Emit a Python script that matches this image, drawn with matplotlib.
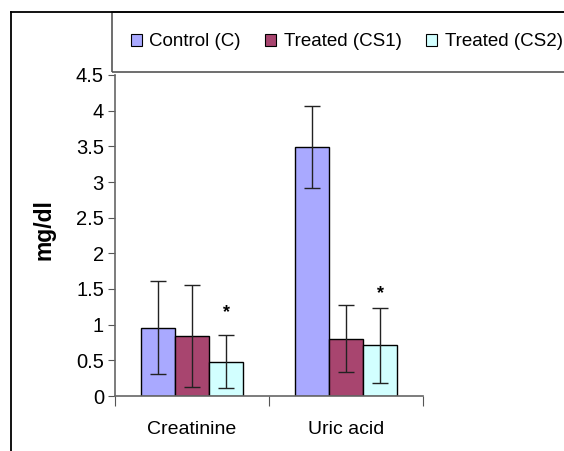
import numpy as np
import matplotlib
matplotlib.use("Agg")
from matplotlib import pyplot as plt
from matplotlib.patches import Rectangle
from matplotlib.lines import Line2D

plt.rcParams['font.family'] = ['Liberation Sans', 'DejaVu Sans']

categories = ["Creatinine", "Uric acid"]
groups = ["Control (C)", "Treated (CS1)", "Treated (CS2)"]
means = {
    "Control (C)":   [0.96, 3.49],
    "Treated (CS1)": [0.84, 0.80],
    "Treated (CS2)": [0.48, 0.71],
}
errors = {
    "Control (C)":   [0.65, 0.57],
    "Treated (CS1)": [0.72, 0.47],
    "Treated (CS2)": [0.37, 0.53],
}
colors = ["#A9A9FF", "#A8456F", "#D2FFFF"]
# significance marks above the CS2 bars
star_y = [1.17, 1.43]

fig = plt.figure(figsize=(5.64, 4.51), dpi=100)
ax = fig.add_axes([115/564, 1-396/451, 308/564, 321/451])

width = 0.221
x = np.arange(len(categories)) + 0.5
for i, g in enumerate(groups):
    pos = x + (i - 1) * width
    ax.bar(pos, means[g], width, color=colors[i], edgecolor='black', linewidth=1.0, label=g)
    ax.errorbar(pos, means[g], yerr=errors[g], fmt='none', ecolor='#222222',
                elinewidth=1.0, capsize=5.5, capthick=1.0)

for xi, yi in zip(x + width, star_y):
    ax.text(xi, yi, "*", ha='center', va='center', fontsize=13, fontweight='bold')

ax.set_xlim(0, 2)
ax.set_ylim(0, 4.5)
ax.set_yticks(np.arange(0, 4.51, 0.5))
ax.set_yticklabels(["0", "0.5", "1", "1.5", "2", "2.5", "3", "3.5", "4", "4.5"], fontsize=14.5)
ax.set_xticks([0, 1, 2])
ax.set_xticklabels([])
ax.set_xticks(x, minor=True)
ax.set_xticklabels(categories, minor=True, fontsize=14)
ax.tick_params(axis='x', which='major', length=7, direction='out', color='#555555')
ax.tick_params(axis='x', which='minor', length=0, pad=18)
ax.tick_params(axis='y', length=5, direction='out', color='#555555', pad=3)
for s in ['top', 'right']:
    ax.spines[s].set_visible(False)
for s in ['left', 'bottom']:
    ax.spines[s].set_color('#666666')
    ax.spines[s].set_linewidth(1.2)

fig.text(44/564, 1-230/451, "mg/dl", rotation=90, ha='center', va='center',
         fontsize=16.5, fontweight='bold')

# outer chart frame and legend box
fig.add_artist(Line2D([11/564, 11/564], [0, 1-12/451], color='black', lw=1.3))
fig.add_artist(Line2D([11/564, 1], [1-12/451, 1-12/451], color='black', lw=1.3))
fig.add_artist(Rectangle((112/564, 1-72/451), 1, 60/451, fill=False,
                         edgecolor='#555555', lw=1.2, clip_on=False))

leg = fig.legend(loc='center left', bbox_to_anchor=(123/564, 1-42/451), ncol=3,
                 frameon=False, fontsize=13.5, handlelength=0.6, handleheight=0.6,
                 handletextpad=0.4, columnspacing=1.3, borderaxespad=0)
for h in leg.legend_handles:
    h.set_linewidth(0.8)

fig.savefig("out.png", dpi=100)
